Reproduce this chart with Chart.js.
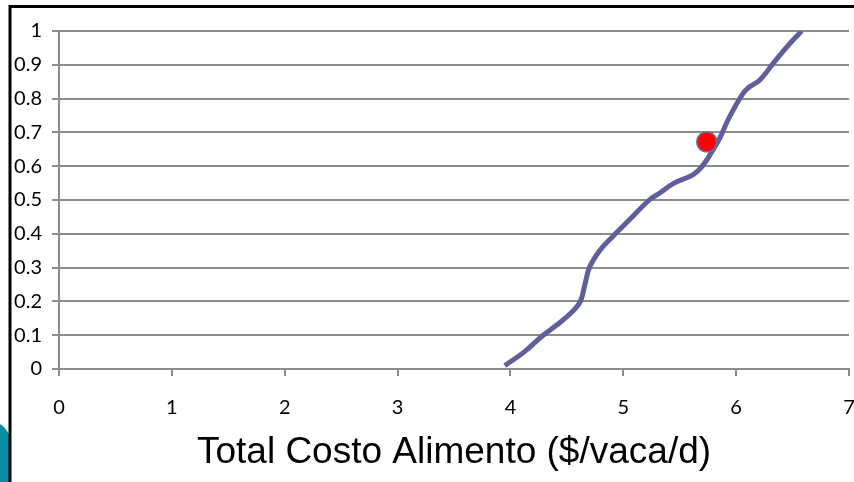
<!DOCTYPE html>
<html>
<head>
<meta charset="utf-8">
<script src="https://cdn.jsdelivr.net/npm/chart.js@4/dist/chart.umd.min.js"></script>
<style>
  html, body { margin: 0; padding: 0; background: #ffffff; }
  #wrap { width: 854px; height: 482px; position: relative; }
</style>
</head>
<body>
<div id="wrap"><canvas id="c" width="854" height="482"></canvas></div>
<script>
// Cumulative curve of total feed cost per cow per day
const costX = [3.95, 4.12, 4.29, 4.41, 4.55, 4.62, 4.66, 4.70, 4.79, 4.90, 5.05, 5.23, 5.32, 5.45, 5.62, 5.70, 5.78, 5.85, 5.94, 6.06, 6.12, 6.21, 6.33, 6.45, 6.58];
const probY = [0.01, 0.05, 0.10, 0.13, 0.17, 0.20, 0.25, 0.30, 0.35, 0.39, 0.44, 0.50, 0.52, 0.55, 0.575, 0.60, 0.64, 0.68, 0.745, 0.815, 0.835, 0.855, 0.905, 0.953, 1.0];

// Highlighted operating point
const pointX = [5.74];
const pointY = [0.672];

const xTickLabels = ['0', '1', '2', '3', '4', '5', '6', '7'];
const yTickLabels = ['0', '0.1', '0.2', '0.3', '0.4', '0.5', '0.6', '0.7', '0.8', '0.9', '1'];
const xTitle = 'Total Costo Alimento ($/vaca/d)';

const curveData = costX.map((x, i) => ({ x: x, y: probY[i] }));
const pointData = pointX.map((x, i) => ({ x: x, y: pointY[i] }));

// Slide frame: black edges and the teal corner shape
const framePlugin = {
  id: 'frame',
  beforeDraw(chart) {
    const ctx = chart.ctx;
    ctx.save();
    ctx.fillStyle = '#ffffff';
    ctx.fillRect(0, 0, chart.width, chart.height);
    ctx.fillStyle = '#0a8ca5';
    ctx.beginPath();
    ctx.moveTo(0, 424);
    ctx.quadraticCurveTo(5, 427, 9, 434);
    ctx.lineTo(9, 482);
    ctx.lineTo(0, 482);
    ctx.closePath();
    ctx.fill();
    ctx.strokeStyle = '#000000';
    ctx.lineWidth = 3;
    ctx.beginPath();
    ctx.moveTo(854, 6.5);
    ctx.lineTo(10, 6.5);
    ctx.lineTo(10, 482);
    ctx.stroke();
    ctx.restore();
  }
};

new Chart(document.getElementById('c'), {
  type: 'scatter',
  data: {
    datasets: [
      {
        data: pointData,
        order: 0,
        showLine: false,
        pointRadius: 10,
        pointBackgroundColor: '#ff0000',
        pointBorderColor: '#6a70a8',
        pointBorderWidth: 1.5
      },
      {
        data: curveData,
        order: 1,
        showLine: true,
        borderColor: '#5f5f9b',
        borderWidth: 5,
        borderCapStyle: 'butt',
        tension: 0.4,
        pointRadius: 0,
        fill: false
      }
    ]
  },
  options: {
    responsive: false,
    animation: false,
    events: [],
    layout: { autoPadding: false, padding: { left: 0, right: 5, top: 31, bottom: 0 } },
    plugins: { legend: { display: false }, tooltip: { enabled: false } },
    scales: {
      x: {
        type: 'linear',
        min: 0,
        max: 7,
        afterBuildTicks(scale) {
          scale.ticks = xTickLabels.map(v => ({ value: Number(v) }));
        },
        afterFit(scale) {
          scale.height = 113;
          scale.paddingLeft = 0;
          scale.paddingRight = 0;
        },
        ticks: {
          autoSkip: false,
          maxRotation: 0,
          padding: 20,
          color: '#000000',
          font: { family: 'Lato', size: 20 },
          callback: (v, i) => xTickLabels[i]
        },
        grid: {
          drawOnChartArea: false,
          drawTicks: true,
          tickLength: 7,
          color: '#8c8c8c',
          lineWidth: 2
        },
        border: { display: true, color: '#8c8c8c', width: 2 },
        title: {
          display: true,
          text: xTitle,
          color: '#000000',
          font: { family: 'Liberation Sans', size: 37 },
          padding: { top: 0, bottom: 7 }
        }
      },
      y: {
        type: 'linear',
        min: 0,
        max: 1,
        afterBuildTicks(scale) {
          scale.ticks = yTickLabels.map(v => ({ value: Number(v) }));
        },
        afterFit(scale) {
          scale.width = 59;
          scale.paddingTop = 0;
          scale.paddingBottom = 0;
        },
        ticks: {
          autoSkip: false,
          padding: 10,
          color: '#000000',
          font: { family: 'Lato', size: 20 },
          callback: (v, i) => yTickLabels[i]
        },
        grid: {
          drawOnChartArea: true,
          drawTicks: true,
          tickLength: 7,
          color: '#8c8c8c',
          lineWidth: 2
        },
        border: { display: true, color: '#8c8c8c', width: 2 }
      }
    }
  },
  plugins: [framePlugin]
});
</script>
</body>
</html>
